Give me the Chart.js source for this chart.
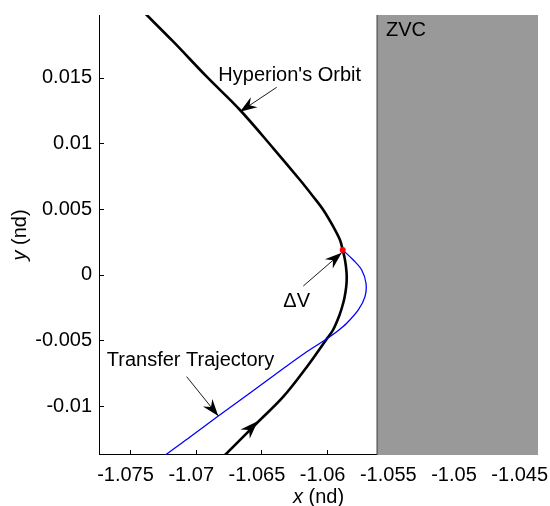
<!DOCTYPE html>
<html>
<head>
<meta charset="utf-8">
<script src="https://cdn.jsdelivr.net/npm/chart.js@4/dist/chart.umd.min.js"></script>
<style>
  html, body { margin: 0; padding: 0; background: #ffffff; }
  canvas { display: block; }
</style>
</head>
<body>
<canvas id="chart" width="550" height="506"></canvas>
<script>
// Hyperion's orbit near the turning point (nondimensional x, y)
const orbitX = [-1.074239, -1.071705, -1.069163, -1.066629, -1.064094, -1.062062, -1.061050,
                -1.060289, -1.059528, -1.059018, -1.058813, -1.058638, -1.058524, -1.058516,
                -1.058600, -1.058752, -1.059056, -1.059551, -1.060084, -1.061530, -1.063333,
                -1.065358, -1.067770, -1.068303];
const orbitY = [ 0.020274,  0.017732,  0.015068,  0.012534,  0.009619,  0.007207,  0.005936,
                 0.004924,  0.003653,  0.002641,  0.001880,  0.001119,  0.000205, -0.000556,
                -0.001317, -0.002078, -0.003067, -0.004209, -0.004970, -0.007002, -0.009285,
                -0.011309, -0.013721, -0.014254];

// Transfer trajectory leaving the manoeuvre point
const transferX = [-1.058813, -1.058006, -1.057367, -1.057040, -1.057116, -1.057626, -1.058508,
                   -1.059269, -1.060160, -1.061682, -1.063333, -1.065868, -1.068280, -1.070434,
                   -1.072207, -1.072869];
const transferY = [ 0.001880,  0.001119,  0.000358, -0.000654, -0.001674, -0.002686, -0.003699,
                   -0.004338, -0.004970, -0.005959, -0.007139, -0.009003, -0.010753, -0.012352,
                   -0.013645, -0.014178];

// Manoeuvre (delta-V) point
const dvX = [-1.058813];
const dvY = [ 0.001880];

// Forbidden region bounded by the zero-velocity curve
const zvcX = [-1.05620, -1.05620, -1.04300, -1.04300];
const zvcY = [-0.01500,  0.02100,  0.02100, -0.01500];

// Axes
const xMin = -1.07736, xMax = -1.04395;
const yMin = -0.013722, yMax = 0.019764;
const xTicks = [-1.075, -1.07, -1.065, -1.06, -1.055, -1.05, -1.045];
const xTickLabels = ['-1.075', '-1.07', '-1.065', '-1.06', '-1.055', '-1.05', '-1.045'];
const yTicks = [-0.01, -0.005, 0, 0.005, 0.01, 0.015];
const yTickLabels = ['-0.01', '-0.005', '0', '0.005', '0.01', '0.015'];

// Text notes (left edge, baseline) and their pointer arrows (tail -> tip)
const noteText = ["Hyperion's Orbit", 'ZVC', '\u0394V', 'Transfer Trajectory'];
const noteX = [-1.06828, -1.05552, -1.06333, -1.07677];
const noteY = [ 0.01474,  0.01817, -0.00244, -0.00695];
const arrowTailX = [-1.06384, -1.06181, -1.07069];
const arrowTailY = [ 0.01426, -0.00086, -0.00776];
const arrowTipX  = [-1.06663, -1.05889, -1.06828];
const arrowTipY  = [ 0.01240,  0.00167, -0.01075];
// Direction-of-motion head on the orbit (from -> tip)
const motionFromX = [-1.06660], motionFromY = [-0.01250];
const motionTipX  = [-1.06528], motionTipY  = [-0.01115];

const FONT = "'Liberation Sans', Arial, Helvetica, sans-serif";
const pts = (xs, ys) => xs.map((x, i) => ({ x: x, y: ys[i] }));

function arrowHead(ctx, x0, y0, x1, y1, len, half) {
  const dx = x1 - x0, dy = y1 - y0;
  const d = Math.hypot(dx, dy) || 1;
  const ux = dx / d, uy = dy / d;
  const nx = -uy, ny = ux;
  const bx = x1 - ux * len, by = y1 - uy * len;
  const mx = x1 - ux * len * 0.68, my = y1 - uy * len * 0.68;
  ctx.beginPath();
  ctx.moveTo(x1, y1);
  ctx.lineTo(bx + nx * half, by + ny * half);
  ctx.lineTo(mx, my);
  ctx.lineTo(bx - nx * half, by - ny * half);
  ctx.closePath();
  ctx.fill();
}

const framePlugin = {
  id: 'frame',
  beforeDatasetsDraw(chart) {
    const { ctx, chartArea: a, scales: { x: sx, y: sy } } = chart;
    ctx.save();
    ctx.strokeStyle = '#000';
    ctx.lineWidth = 1;
    ctx.beginPath();
    ctx.moveTo(a.left + 0.5, a.top);
    ctx.lineTo(a.left + 0.5, a.bottom);
    ctx.moveTo(a.left, a.bottom - 0.5);
    ctx.lineTo(a.right, a.bottom - 0.5);
    // inward tick marks
    xTicks.forEach(v => {
      const px = Math.round(sx.getPixelForValue(v)) + 0.5;
      ctx.moveTo(px, a.bottom);
      ctx.lineTo(px, a.bottom - 5);
    });
    yTicks.forEach(v => {
      const py = Math.round(sy.getPixelForValue(v)) + 0.5;
      ctx.moveTo(a.left, py);
      ctx.lineTo(a.left + 5, py);
    });
    ctx.stroke();
    ctx.restore();
  },
  afterDatasetsDraw(chart) {
    const { ctx, chartArea: a, scales: { x: sx, y: sy } } = chart;
    ctx.save();
    ctx.fillStyle = '#000';
    ctx.strokeStyle = '#000';
    ctx.font = '20px ' + FONT;
    ctx.textAlign = 'left';
    ctx.textBaseline = 'alphabetic';
    noteText.forEach((t, i) => {
      ctx.fillText(t, sx.getPixelForValue(noteX[i]), sy.getPixelForValue(noteY[i]));
    });
    ctx.lineWidth = 0.9;
    arrowTailX.forEach((_, i) => {
      const x0 = sx.getPixelForValue(arrowTailX[i]), y0 = sy.getPixelForValue(arrowTailY[i]);
      const x1 = sx.getPixelForValue(arrowTipX[i]),  y1 = sy.getPixelForValue(arrowTipY[i]);
      ctx.beginPath();
      ctx.moveTo(x0, y0);
      ctx.lineTo(x1, y1);
      ctx.stroke();
      arrowHead(ctx, x0, y0, x1, y1, 17, 6);
    });
    motionTipX.forEach((_, i) => {
      arrowHead(ctx,
        sx.getPixelForValue(motionFromX[i]), sy.getPixelForValue(motionFromY[i]),
        sx.getPixelForValue(motionTipX[i]), sy.getPixelForValue(motionTipY[i]), 18, 6.5);
    });

    // axis titles with italic variable names
    const drawTitle = (v, rest, cx, cy, rot) => {
      ctx.save();
      ctx.translate(cx, cy);
      ctx.rotate(rot);
      ctx.textBaseline = 'middle';
      ctx.font = 'italic 20px ' + FONT;
      const w1 = ctx.measureText(v).width;
      ctx.font = '20px ' + FONT;
      const w2 = ctx.measureText(rest).width;
      const start = -(w1 + w2) / 2;
      ctx.font = 'italic 20px ' + FONT;
      ctx.fillText(v, start, 0);
      ctx.font = '20px ' + FONT;
      ctx.fillText(rest, start + w1, 0);
      ctx.restore();
    };
    drawTitle('x', ' (nd)', (a.left + a.right) / 2, 497, 0);
    drawTitle('y', ' (nd)', 20, (a.top + a.bottom) / 2, -Math.PI / 2);
    ctx.restore();
  }
};

new Chart(document.getElementById('chart').getContext('2d'), {
  type: 'line',
  data: {
    datasets: [
      { label: 'ZVC', data: pts(zvcX, zvcY), order: 4, fill: 'shape',
        backgroundColor: '#999999', borderColor: '#3a3a3a', borderWidth: 1,
        tension: 0, pointRadius: 0 },
      { label: "Hyperion's Orbit", data: pts(orbitX, orbitY), order: 3, fill: false,
        borderColor: '#000000', borderWidth: 2.6, tension: 0.35, pointRadius: 0 },
      { label: 'Transfer Trajectory', data: pts(transferX, transferY), order: 2, fill: false,
        borderColor: '#0000ff', borderWidth: 1.3, tension: 0.35, pointRadius: 0 },
      { label: '\u0394V', data: pts(dvX, dvY), order: 1, showLine: false, fill: false,
        pointRadius: 3, pointBackgroundColor: '#ff0000', pointBorderColor: '#ff0000',
        pointBorderWidth: 0 }
    ]
  },
  options: {
    responsive: false,
    animation: false,
    events: [],
    elements: { line: { capBezierPoints: false } },
    layout: { padding: { top: 15, right: 12, left: 0, bottom: 0 } },
    plugins: { legend: { display: false }, tooltip: { enabled: false }, filler: { propagate: false } },
    scales: {
      x: {
        type: 'linear', position: 'bottom', min: xMin, max: xMax,
        grid: { display: false, drawTicks: false },
        border: { display: false },
        ticks: {
          color: '#000', font: { family: FONT, size: 20 }, padding: 8,
          labelOffset: -4.5, maxRotation: 0, autoSkip: false,
          callback: (v, i) => xTickLabels[i]
        },
        afterBuildTicks: s => { s.ticks = xTicks.map(v => ({ value: v })); },
        afterFit: s => { s.height = 51; s.paddingLeft = 0; s.paddingRight = 0; }
      },
      y: {
        type: 'linear', position: 'left', min: yMin, max: yMax,
        grid: { display: false, drawTicks: false },
        border: { display: false },
        ticks: {
          color: '#000', font: { family: FONT, size: 20 }, padding: 7,
          autoSkip: false,
          callback: (v, i) => yTickLabels[i]
        },
        afterBuildTicks: s => { s.ticks = yTicks.map(v => ({ value: v })); },
        afterFit: s => { s.width = 99; s.paddingTop = 0; s.paddingBottom = 0; }
      }
    }
  },
  plugins: [framePlugin]
});
</script>
</body>
</html>
